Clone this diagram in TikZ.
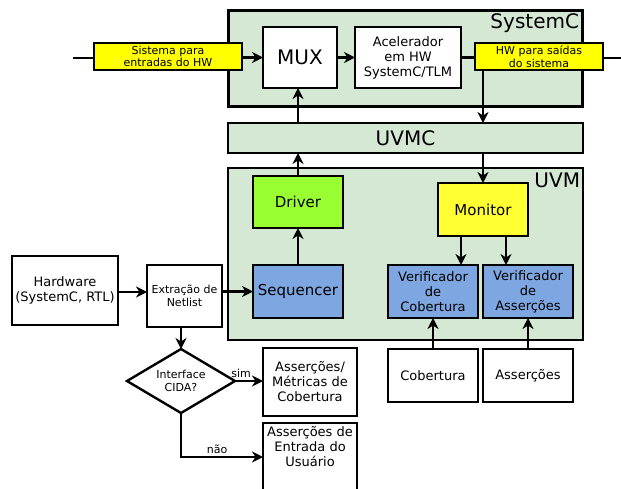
\documentclass[tikz,border=0pt]{standalone}
\usepackage{fontspec}
\setmainfont{DejaVu Sans}
\usetikzlibrary{shapes.geometric,arrows.meta}
\definecolor{bggreen}{HTML}{D5E8D4}
\definecolor{drvgreen}{HTML}{99FF33}
\definecolor{monyellow}{HTML}{FFFF33}
\definecolor{lblyellow}{HTML}{FFFF00}
\definecolor{boxblue}{HTML}{7EA6E0}
\definecolor{ink}{HTML}{000000}
\tikzset{
  x=1pt,y=-1pt,
  every node/.style={inner sep=0pt,outer sep=0pt,align=center,text=ink},
  frame/.style={draw=ink,line width=2.4pt,rectangle},
  group/.style={frame,fill=bggreen},
  wbox/.style={frame,fill=white,font=\fontsize{13}{15}\selectfont},
  bbox/.style={frame,fill=boxblue,font=\fontsize{13}{15}\selectfont},
  ylbl/.style={frame,fill=lblyellow,font=\fontsize{11}{12.5}\selectfont},
  bigtxt/.style={font=\fontsize{20}{22}\selectfont},
  midtxt/.style={font=\fontsize{15}{17}\selectfont},
  conn/.style={draw=ink,line width=2.2pt},
  arr/.style={conn,-{Stealth[length=11pt,width=11pt,inset=3.5pt]}},
  smalllbl/.style={font=\fontsize{11}{13}\selectfont}
}
\begin{document}
\begin{tikzpicture}
\useasboundingbox (0,0) rectangle (621,488);
% groups
\node[group,minimum width=354,minimum height=96] (sysc) at (405.5,58.5) {};
\node[bigtxt,anchor=base east] (sysclbl) at (579,28.5) {SystemC};
\node[group,minimum width=355,minimum height=30,bigtxt] (uvmc) at (405.5,138) {UVMC};
\node[group,minimum width=355,minimum height=172] (uvm) at (405.5,254) {};
\node[bigtxt,anchor=base east] (uvmlbl) at (580,187.5) {UVM};
% SystemC contents
\node[wbox,minimum width=74,minimum height=61,bigtxt] (mux) at (300,57.5) {MUX};
\node[wbox,minimum width=106,minimum height=61] (acel) at (408,57.5) {Acelerador\\em HW\\SystemC/TLM};
\node[ylbl,minimum width=148,minimum height=27] (sisin) at (168,56.5) {Sistema para\\entradas do HW};
\node[ylbl,minimum width=128,minimum height=27] (hwout) at (539,56.5) {HW para saídas\\do sistema};
\coordinate (inL) at (73,58);
\coordinate (outR) at (621,58);
% UVM contents
\node[frame,fill=drvgreen,minimum width=90,minimum height=52,midtxt] (driver) at (298,202) {Driver};
\node[bbox,minimum width=90,minimum height=53,midtxt] (seq) at (298,291.5) {Sequencer};
\node[frame,fill=monyellow,minimum width=90,minimum height=53,midtxt] (monitor) at (483,209.5) {Monitor};
\node[bbox,minimum width=90,minimum height=53] (vcob) at (433,291.5) {Verificador\\de\\Cobertura};
\node[bbox,minimum width=90,minimum height=53] (vass) at (528,291.5) {Verificador\\de\\Asserções};
% lower boxes
\node[wbox,minimum width=90,minimum height=53] (cob) at (433,375.5) {Cobertura};
\node[wbox,minimum width=90,minimum height=53] (ass) at (528,375.5) {Asserções};
\node[wbox,minimum width=106,minimum height=69] (hw) at (65,290.5) {Hardware\\(SystemC, RTL)};
\node[wbox,minimum width=75,minimum height=62,font=\fontsize{11}{13.5}\selectfont] (ext) at (184.5,296) {Extração de\\Netlist};
\node[frame,diamond,aspect=1.69,minimum width=108,minimum height=64,fill=white,font=\fontsize{11}{13.5}\selectfont] (cida) at (181,381) {Interface\\CIDA?};
\node[wbox,minimum width=94,minimum height=68] (met) at (310,382) {Asserções/\\Métricas de\\Cobertura};
\node[wbox,minimum width=94,minimum height=76] (ent) at (310,461) {};
\node[font=\fontsize{13}{15}\selectfont,anchor=north] (enttxt) at (310,426) {Asserções de\\Entrada do\\Usuário};
% connectors
\draw[conn] (inL) -- (inL -| sisin.west);
\draw[arr] (sisin.east |- mux.west) -- (mux.west);
\draw[arr] (mux.east) -- (acel.west);
\draw[conn] (acel.east) -- (acel.east -| hwout.west);
\draw[conn] (outR -| hwout.east) -- (outR);
\draw[arr] (monitor.north |- hwout.south) -- (monitor.north |- uvmc.north);
\draw[arr] (monitor.north |- uvmc.south) -- (monitor.north);
\draw[arr] (driver.north) -- (driver.north |- uvmc.south);
\draw[arr] (driver.north |- uvmc.north) -- (driver.north |- mux.south);
\draw[arr] (seq.north) -- (driver.south);
\draw[arr] ([xshift=-22pt]monitor.south) -- ([xshift=-22pt]monitor.south |- vcob.north);
\draw[arr] ([xshift=23pt]monitor.south) -- ([xshift=23pt]monitor.south |- vass.north);
\draw[arr] (cob.north) -- (vcob.south);
\draw[arr] (ass.north) -- (vass.south);
\draw[arr] (hw.east |- 0,292) -- (ext.west |- 0,292);
\draw[arr] (ext.east |- seq.west) -- (seq.west);
\draw[arr] (ext.south -| cida.north) -- (cida.north);
\draw[arr] (cida.east) -- node[smalllbl,above=3pt,pos=0.22] (simlbl) {sim} (cida.east -| met.west);
\draw[arr] (cida.south) |- node[smalllbl,above=3pt,pos=0.72] (naolbl) {não} (ent.west |- 0,457);
\end{tikzpicture}
\end{document}
